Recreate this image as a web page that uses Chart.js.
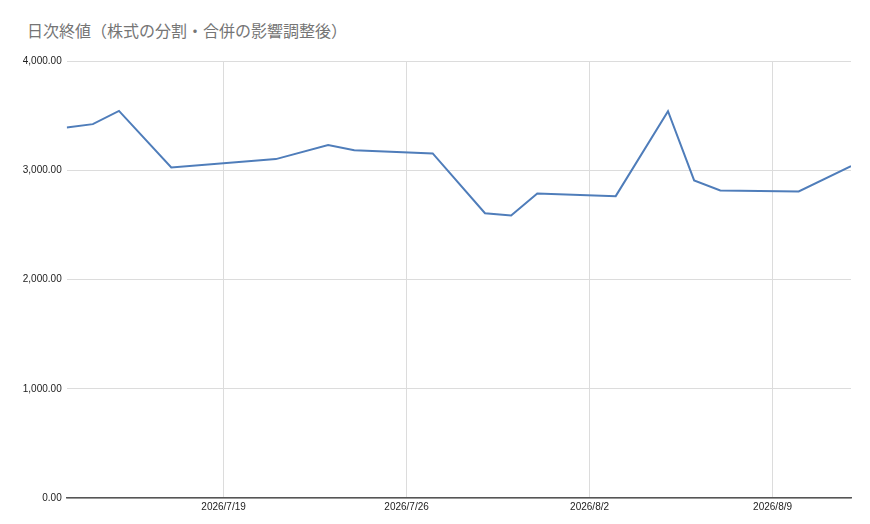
<!DOCTYPE html>
<html lang="ja">
<head>
  <meta charset="UTF-8">
  <title>日次終値</title>
  <script src="https://cdn.jsdelivr.net/npm/chart.js"></script>
  <style>
    html, body {
      margin: 0;
      padding: 0;
      background: #ffffff;
    }

    .wrap {
      position: relative;
      width: 870px;
      height: 524px;
    }

    .chart-title {
      position: absolute;
      left: 27px;
      top: 19px;
      font-family: "Noto Sans CJK JP", sans-serif;
      font-size: 16px;
      line-height: 22px;
      color: #757575;
      white-space: nowrap;
    }

    canvas {
      position: absolute;
      left: 0;
      top: 0;
    }
  </style>
</head>
<body>

  <div class="wrap">
    <div class="chart-title">日次終値（株式の分割・合併の影響調整後）</div>
    <canvas id="closeChart" width="870" height="524"></canvas>
  </div>

  <script>
    // Daily close values
    const dates = ['2026/7/13', '2026/7/14', '2026/7/15', '2026/7/17', '2026/7/21', '2026/7/23',
                   '2026/7/24', '2026/7/27', '2026/7/29', '2026/7/30', '2026/7/31', '2026/8/3',
                   '2026/8/5', '2026/8/6', '2026/8/7', '2026/8/10', '2026/8/12'];
    const closes = [3392, 3422, 3543, 3026, 3102, 3230, 3184, 3154, 2607, 2586, 2788, 2763,
                    3541, 2907, 2815, 2806, 3038];

    // Axis ranges and tick labels
    const startDate = '2026/7/13';
    const endDate = '2026/8/12';
    const xTickLabels = ['2026/7/19', '2026/7/26', '2026/8/2', '2026/8/9'];
    const yTicks = [0, 1000, 2000, 3000, 4000];

    // day number helpers (no date adapter, so use a linear axis of days)
    function dayNum(s) {
      const p = s.split('/').map(Number);
      return Date.UTC(p[0], p[1] - 1, p[2]) / 86400000;
    }
    const day0 = dayNum(startDate);
    function dayLabel(d) {
      const dt = new Date((d + day0) * 86400000);
      return dt.getUTCFullYear() + '/' + (dt.getUTCMonth() + 1) + '/' + dt.getUTCDate();
    }

    const points = dates.map((d, i) => ({ x: dayNum(d) - day0, y: closes[i] }));
    const xTickValues = xTickLabels.map(d => dayNum(d) - day0);

    const tickFont = { family: '"Liberation Sans", Arial, sans-serif', size: 10 };

    const ctx = document.getElementById('closeChart').getContext('2d');
    const chart = new Chart(ctx, {
      type: 'line',
      data: {
        datasets: [{
          label: '終値',
          data: points,
          borderColor: '#4f7dba',
          borderWidth: 2,
          pointRadius: 0,
          tension: 0,
          fill: false
        }]
      },
      options: {
        responsive: false,
        animation: false,
        layout: {
          padding: { left: 22, right: 19, top: 61, bottom: 6 }
        },
        plugins: {
          legend: { display: false },
          title: { display: false },
          tooltip: { enabled: false }
        },
        scales: {
          x: {
            type: 'linear',
            min: 0,
            max: dayNum(endDate) - day0,
            afterBuildTicks: function (scale) {
              scale.ticks = xTickValues.map(v => ({ value: v }));
            },
            afterFit: function (scale) {
              scale.height = 20;
            },
            ticks: {
              color: '#222222',
              font: tickFont,
              padding: 3,
              maxRotation: 0,
              autoSkip: false,
              callback: function (value) {
                return dayLabel(value);
              }
            },
            grid: {
              color: '#dcdcdc',
              drawTicks: false
            },
            border: {
              display: true,
              color: '#555555',
              width: 1.5
            }
          },
          y: {
            min: yTicks[0],
            max: yTicks[yTicks.length - 1],
            afterBuildTicks: function (scale) {
              scale.ticks = yTicks.map(v => ({ value: v }));
            },
            afterFit: function (scale) {
              scale.width = 44.7;
            },
            ticks: {
              color: '#222222',
              font: tickFont,
              padding: 5,
              callback: function (value) {
                return value.toLocaleString('en-US', { minimumFractionDigits: 2, maximumFractionDigits: 2 });
              }
            },
            grid: {
              color: '#dcdcdc',
              drawTicks: false
            },
            border: { display: false }
          }
        }
      }
    });
  </script>

</body>
</html>
